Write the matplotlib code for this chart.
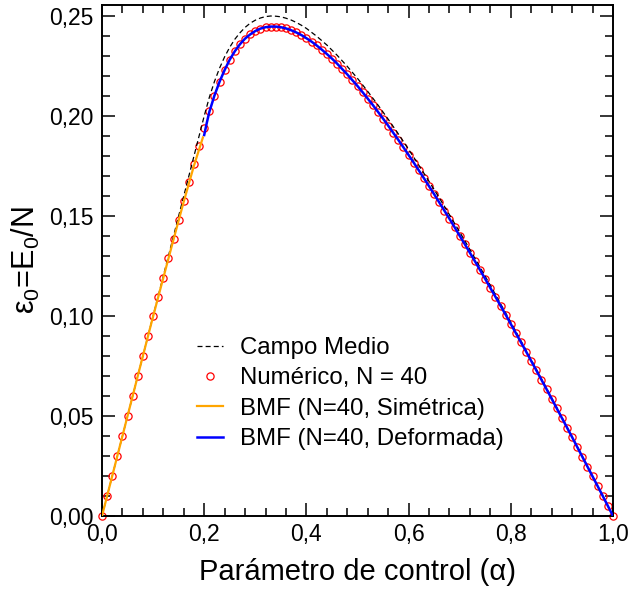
import matplotlib
matplotlib.use('Agg')
import matplotlib.pyplot as plt
from matplotlib import font_manager
from matplotlib.ticker import MultipleLocator, FuncFormatter

plt.rcParams['font.family'] = ['Liberation Sans', 'DejaVu Sans']
plt.rcParams['mathtext.fontset'] = 'custom'
plt.rcParams['mathtext.rm'] = 'Liberation Sans'
plt.rcParams['mathtext.it'] = 'Liberation Sans:italic'

_names = {f.name for f in font_manager.fontManager.ttflist}
NARROW = 'Liberation Sans Narrow' if 'Liberation Sans Narrow' in _names else None

# ---------------- data ----------------
# Numerical result, N = 40
num_alpha = [i / 100 for i in range(101)]
num_eps = [
    0.0000, 0.0100, 0.0200, 0.0300, 0.0400, 0.0500, 0.0600, 0.0700, 0.0800, 0.0899,
    0.0998, 0.1095, 0.1192, 0.1289, 0.1385, 0.1480, 0.1575, 0.1668, 0.1760, 0.1850,
    0.1940, 0.2023, 0.2102, 0.2171, 0.2230, 0.2282, 0.2324, 0.2359, 0.2387, 0.2408,
    0.2425, 0.2437, 0.2444, 0.2447, 0.2447, 0.2444, 0.2438, 0.2429, 0.2418, 0.2405,
    0.2389, 0.2372, 0.2353, 0.2332, 0.2310, 0.2287, 0.2262, 0.2235, 0.2208, 0.2179,
    0.2150, 0.2119, 0.2087, 0.2055, 0.2021, 0.1987, 0.1952, 0.1916, 0.1880, 0.1843,
    0.1805, 0.1767, 0.1728, 0.1689, 0.1649, 0.1609, 0.1568, 0.1527, 0.1486, 0.1444,
    0.1401, 0.1359, 0.1316, 0.1273, 0.1229, 0.1185, 0.1140, 0.1096, 0.1051, 0.1006,
    0.0960, 0.0914, 0.0868, 0.0822, 0.0775, 0.0728, 0.0681, 0.0634, 0.0586, 0.0538,
    0.0490, 0.0442, 0.0394, 0.0345, 0.0296, 0.0247, 0.0198, 0.0149, 0.0100, 0.0050,
    0.0000,
]

# Mean field ("Campo Medio")
mf_alpha = [0.00, 0.10, 0.20, 0.21, 0.22, 0.23, 0.24, 0.25, 0.26, 0.27, 0.28, 0.29,
            0.30, 0.31, 0.32, 0.33, 0.34, 0.35, 0.36, 0.37, 0.38, 0.39, 0.40, 0.42,
            0.44, 0.46, 0.48, 0.50, 0.52, 0.54, 0.56, 0.58, 0.60, 0.62, 0.64, 0.66,
            0.68, 0.70, 0.72, 0.74, 0.76, 0.78, 0.80, 0.82, 0.84, 0.86, 0.88, 0.90,
            0.92, 0.94, 0.96, 0.98, 1.00]
mf_eps = [0.0000, 0.1000, 0.2000, 0.2093, 0.2172, 0.2239, 0.2296, 0.2344, 0.2384,
          0.2416, 0.2443, 0.2464, 0.2479, 0.2490, 0.2497, 0.2500, 0.2499, 0.2496,
          0.2489, 0.2480, 0.2468, 0.2454, 0.2438, 0.2399, 0.2355, 0.2304, 0.2248,
          0.2188, 0.2123, 0.2055, 0.1984, 0.1910, 0.1833, 0.1754, 0.1673, 0.1591,
          0.1506, 0.1420, 0.1332, 0.1243, 0.1153, 0.1061, 0.0969, 0.0875, 0.0781,
          0.0686, 0.0590, 0.0493, 0.0396, 0.0298, 0.0199, 0.0100, 0.0000]

# BMF (N=40, symmetric)
sym_alpha = [0.00, 0.04, 0.08, 0.10, 0.12, 0.14, 0.16, 0.18, 0.1975]
sym_eps = [0.0000, 0.0400, 0.0800, 0.0998, 0.1191, 0.1383, 0.1572, 0.1752, 0.1893]

# BMF (N=40, deformed)
def_alpha_start = [0.200, 0.205, 0.210]
def_eps_start = [0.1905, 0.1965, 0.2020]
def_alpha = def_alpha_start + num_alpha[22:]
def_eps = def_eps_start + num_eps[22:]

xticks = [0.0, 0.2, 0.4, 0.6, 0.8, 1.0]
yticks = [0.00, 0.05, 0.10, 0.15, 0.20, 0.25]

# ---------------- plot ----------------
fig = plt.figure(figsize=(6.32, 5.90), dpi=100)
ax = fig.add_axes([102 / 632, 1 - 516 / 590, 511 / 632, 511 / 590])

ax.plot(num_alpha, num_eps, linestyle='none', marker='o', markersize=5.2,
        markerfacecolor='none', markeredgecolor='#ff0000', markeredgewidth=0.9,
        label='Numérico, N = 40', zorder=2, clip_on=False)
ax.plot(mf_alpha, mf_eps, color='black', lw=0.9, dashes=(4, 2.5),
        label='Campo Medio', zorder=3)
ax.plot(sym_alpha, sym_eps, color='#ffa500', lw=1.6,
        label='BMF (N=40, Simétrica)', zorder=4)
ax.plot(def_alpha, def_eps, color='#0000ff', lw=1.8,
        label='BMF (N=40, Deformada)', zorder=4)

ax.set_xlim(0, 1)
ax.set_ylim(0, 0.2555)
ax.set_xticks(xticks)
ax.set_yticks(yticks)
ax.xaxis.set_minor_locator(MultipleLocator(0.04))
ax.yaxis.set_minor_locator(MultipleLocator(0.01))
ax.xaxis.set_major_formatter(FuncFormatter(lambda v, p: f'{v:.1f}'.replace('.', ',')))
ax.yaxis.set_major_formatter(FuncFormatter(lambda v, p: f'{v:.2f}'.replace('.', ',')))
ax.tick_params(which='both', direction='in', top=True, right=True,
               labelsize=16.5, width=1.1, color='black')
ax.tick_params(which='major', length=9.5)
ax.tick_params(which='minor', length=5.5)
ax.tick_params(axis='x', pad=5)
ax.tick_params(axis='y', pad=6)
for s in ax.spines.values():
    s.set_linewidth(1.4)

ax.set_xlabel('Parámetro de control (α)', fontsize=21, labelpad=9)
if NARROW:
    plt.rcParams['mathtext.rm'] = NARROW
    ax.set_ylabel('ε$_0$=E$_0$/N', fontsize=25, labelpad=4,
                  family=[NARROW, 'Liberation Sans', 'DejaVu Sans'])
else:
    ax.set_ylabel('ε$_0$=E$_0$/N', fontsize=22, labelpad=5)

handles, labels = ax.get_legend_handles_labels()
order = [1, 0, 2, 3]
ax.legend([handles[i] for i in order], [labels[i] for i in order],
          loc='upper left', bbox_to_anchor=(0.186, 0.35), frameon=False,
          fontsize=17.3, handlelength=1.1, handletextpad=0.7,
          labelspacing=0.345, borderpad=0, borderaxespad=0, numpoints=1)

fig.savefig('out.png', dpi=100)
